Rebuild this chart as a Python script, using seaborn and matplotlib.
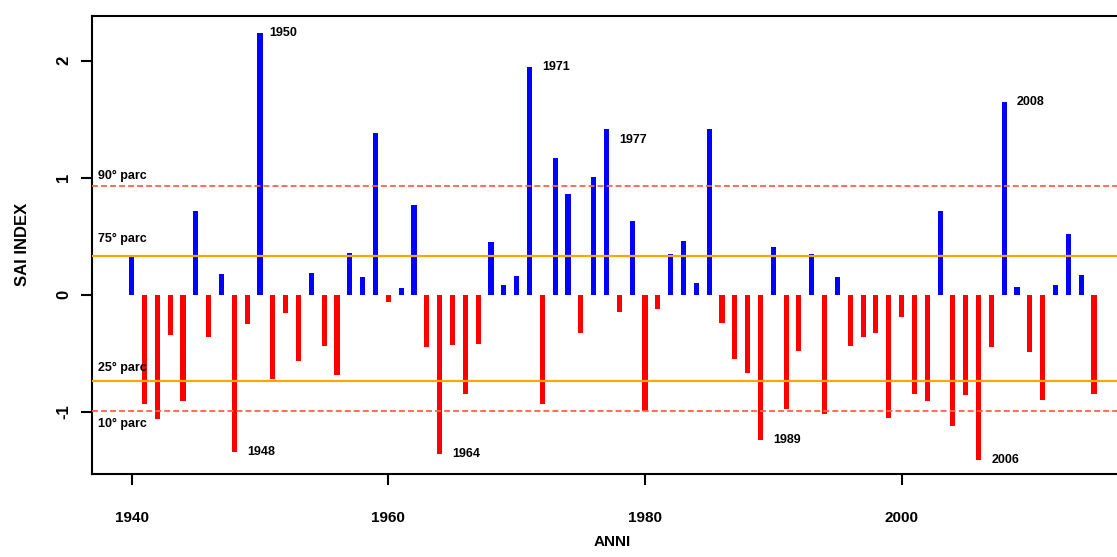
import numpy as np
import pandas as pd
import seaborn as sns
import matplotlib.pyplot as plt
from matplotlib import font_manager

# ==============================
# Data (SAI index per year)
# ==============================
years = list(range(1940, 2016))
sai = [
    0.33, -0.93, -1.06, -0.34, -0.91, 0.72, -0.36, 0.18, -1.34, -0.25,   # 1940-49
    2.24, -0.72, -0.16, -0.57, 0.19, -0.44, -0.69, 0.36, 0.15, 1.38,     # 1950-59
    -0.06, 0.06, 0.77, -0.45, -1.36, -0.43, -0.85, -0.42, 0.45, 0.08,    # 1960-69
    0.16, 1.95, -0.93, 1.17, 0.86, -0.33, 1.01, 1.42, -0.15, 0.63,       # 1970-79
    -0.99, -0.12, 0.35, 0.46, 0.10, 1.42, -0.24, -0.55, -0.67, -1.24,    # 1980-89
    0.41, -0.98, -0.48, 0.35, -1.02, 0.15, -0.44, -0.36, -0.33, -1.05,   # 1990-99
    -0.19, -0.85, -0.91, 0.72, -1.12, -0.86, -1.41, -0.45, 1.65, 0.07,   # 2000-09
    -0.49, -0.90, 0.08, 0.52, 0.17, -0.85,                               # 2010-15
]

perc_names = ["90° parc", "75° parc", "25° parc", "10° parc"]
perc_values = [0.926, 0.333, -0.740, -0.991]

label_years = [1948, 1950, 1964, 1971, 1977, 1989, 2006, 2008]

df = pd.DataFrame({"anno": years, "sai": sai})
df["segno"] = np.where(df["sai"] >= 0, "pos", "neg")

# ==============================
# Style
# ==============================
sns.set_style("ticks")
names = {f.name for f in font_manager.fontManager.ttflist}
fam = "Liberation Sans Narrow" if "Liberation Sans Narrow" in names else "Liberation Sans"
plt.rcParams["font.family"] = [fam, "DejaVu Sans"]
plt.rcParams["axes.unicode_minus"] = False
plt.rcParams["text.color"] = "black"
plt.rcParams["axes.labelcolor"] = "black"
plt.rcParams["xtick.color"] = "black"
plt.rcParams["ytick.color"] = "black"

fig = plt.figure(figsize=(11.17, 5.57), dpi=100)
ax = fig.add_axes([0.0821, 0.149, 0.9318, 0.8228])

sns.barplot(data=df, x="anno", y="sai", hue="segno", native_scale=True,
            palette={"pos": "#0000FF", "neg": "#FF0000"}, saturation=1,
            width=0.4, dodge=False, errorbar=None, legend=False,
            linewidth=0, ax=ax)

# percentile lines
styles = {"90° parc": dict(color="#FF6347", lw=1.3, ls=(0, (3.3, 1.7))),
          "75° parc": dict(color="#FFA500", lw=1.6, ls="-"),
          "25° parc": dict(color="#FFA500", lw=1.6, ls="-"),
          "10° parc": dict(color="#FF6347", lw=1.3, ls=(0, (3.3, 1.7)))}
text_dy = {"90° parc": 0.09, "75° parc": 0.14, "25° parc": 0.11, "10° parc": -0.11}
for name, val in zip(perc_names, perc_values):
    ax.axhline(val, zorder=3, **styles[name])
    ax.text(1937.4, val + text_dy[name], name, fontsize=9, fontweight="bold",
            va="center", ha="left", zorder=4)

# year labels of extreme values
dx = {1950: 0.75}
dy = {1977: -0.1}
for yr in label_years:
    v = df.loc[df["anno"] == yr, "sai"].iloc[0]
    ax.text(yr + dx.get(yr, 1.0), v + dy.get(yr, 0.0), str(yr), fontsize=9,
            fontweight="bold", va="center", ha="left", zorder=4)

ax.set_xlim(1936.88, 2018)
ax.set_ylim(-1.532, 2.385)
ax.set_xticks([1940, 1960, 1980, 2000])
ax.set_yticks([-1, 0, 1, 2])
ax.set_xlabel("ANNI", fontsize=11, fontweight="bold", labelpad=7)
ax.set_ylabel("SAI INDEX", fontsize=12, fontweight="bold", labelpad=19)

for s in ax.spines.values():
    s.set_visible(True)
    s.set_linewidth(1.5)
    s.set_color("black")

ax.tick_params(axis="both", length=7.7, width=1.5, color="black")
ax.tick_params(axis="x", pad=19, labelsize=11)
ax.tick_params(axis="y", pad=7, labelsize=12, labelrotation=90)
for lab in ax.get_xticklabels() + ax.get_yticklabels():
    lab.set_fontweight("bold")
for lab in ax.get_yticklabels():
    lab.set_va("center")

fig.savefig("out.png", dpi=100)
